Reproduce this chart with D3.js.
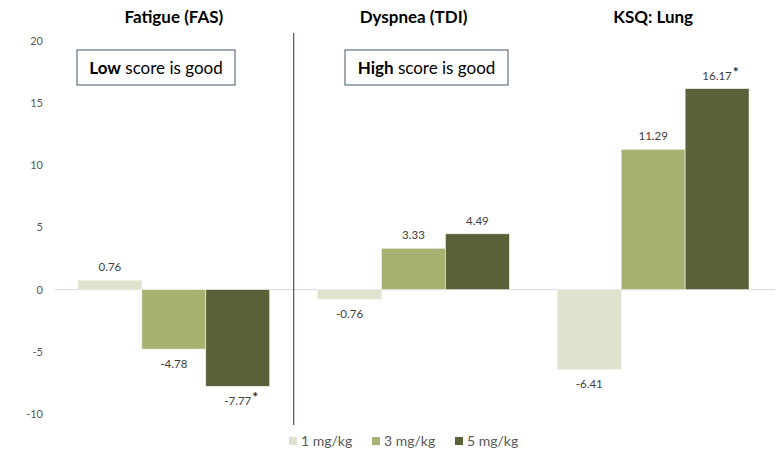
<!DOCTYPE html>
<html><head><meta charset="utf-8">
<script src="https://cdn.jsdelivr.net/npm/d3@7"></script>
<style>body{margin:0;background:#fff}svg{display:block;font-family:Lato,"Open Sans",sans-serif}</style>
</head><body><svg id="c" width="781" height="453"></svg>
<script>
const categories = ["Fatigue (FAS)", "Dyspnea (TDI)", "KSQ: Lung"];
const series = ["1 mg/kg", "3 mg/kg", "5 mg/kg"];
const dose1 = [0.76, -0.76, -6.41];
const dose3 = [-4.78, 3.33, 11.29];
const dose5 = [-7.77, 4.49, 16.17];
const starred = [[false,false,true],[false,false,false],[false,false,true]]; // [cat][series]
const yTicks = [20, 15, 10, 5, 0, -5, -10];
const colors = ["#dfe2cd", "#a8b072", "#5a6037"];

const values = [dose1, dose3, dose5];
const svg = d3.select("#c");
const x0 = d3.scaleBand().domain(categories).range([54, 773]).paddingInner(0.2).paddingOuter(0.1);
const x1 = d3.scaleBand().domain(series).range([0, x0.bandwidth()]);
const y = d3.scaleLinear().domain([-10, 20]).range([414, 41]);

// y tick labels
svg.append("g").selectAll("text").data(yTicks).join("text")
  .attr("x", 43).attr("y", d => y(d)).attr("dy", "0.35em").attr("text-anchor", "end")
  .attr("font-size", 11).attr("fill", "#595959").text(d => d);

// zero line
svg.append("line").attr("x1", 55).attr("x2", 775).attr("y1", y(0)).attr("y2", y(0))
  .attr("stroke", "#d9d9d9").attr("stroke-width", 1);

// bars
const groups = svg.append("g").selectAll("g").data(categories).join("g")
  .attr("transform", d => `translate(${x0(d)},0)`);
groups.each(function(cat, ci) {
  const g = d3.select(this);
  series.forEach((s, si) => {
    const v = values[si][ci];
    g.append("rect").attr("x", x1(s)).attr("width", x1.bandwidth())
      .attr("y", Math.min(y(v), y(0))).attr("height", Math.abs(y(v) - y(0)))
      .attr("fill", colors[si]).attr("stroke", "#f2f2f2").attr("stroke-width", 0.6);
    const cx = x1(s) + x1.bandwidth() / 2;
    const ly = v >= 0 ? y(v) - 9 : y(v) + 19;
    const t = g.append("text").attr("x", cx).attr("y", ly).attr("text-anchor", "middle")
      .attr("font-size", 11.5).attr("fill", "#404040").text(v.toFixed(2));
    if (starred[ci][si]) {
      const w = t.node().getComputedTextLength();
      g.append("text").attr("x", cx + w / 2 + 1).attr("y", ly - 3)
        .attr("font-size", 14).attr("font-weight", "bold").attr("fill", "#1f2d4d").text("*");
    }
  });
});

// titles
svg.append("g").selectAll("text").data(categories).join("text")
  .attr("x", d => x0(d) + x0.bandwidth() / 2).attr("y", 23).attr("text-anchor", "middle")
  .attr("font-size", 17).attr("font-weight", "bold").attr("fill", "#000").text(d => d);

// separator
const sepX = (x0(categories[0]) + x0.bandwidth() + x0(categories[1])) / 2;
svg.append("line").attr("x1", sepX).attr("x2", sepX).attr("y1", 33).attr("y2", 425)
  .attr("stroke", "#44546a").attr("stroke-width", 1.2);

// note boxes
const notes = [{b: "Low", r: " score is good", x: 77, w: 158}, {b: "High", r: " score is good", x: 345, w: 163}];
notes.forEach(n => {
  svg.append("rect").attr("x", n.x).attr("y", 50).attr("width", n.w).attr("height", 35)
    .attr("fill", "#fff").attr("stroke", "#44546a").attr("stroke-width", 1);
  const t = svg.append("text").attr("x", n.x + n.w / 2).attr("y", 73.5).attr("text-anchor", "middle")
    .attr("font-size", 17).attr("fill", "#000");
  t.append("tspan").attr("font-weight", "bold").text(n.b);
  t.append("tspan").text(n.r);
});

// legend
const legX = [289, 372, 455];
const leg = svg.append("g").selectAll("g").data(series).join("g")
  .attr("transform", (d, i) => `translate(${legX[i]},441)`);
leg.append("rect").attr("x", 0).attr("y", -4).attr("width", 8).attr("height", 8).attr("fill", (d, i) => colors[i]);
leg.append("text").attr("x", 12).attr("y", 0).attr("dy", "0.35em").attr("font-size", 14)
  .attr("fill", "#595959").text(d => d);
</script></body></html>
